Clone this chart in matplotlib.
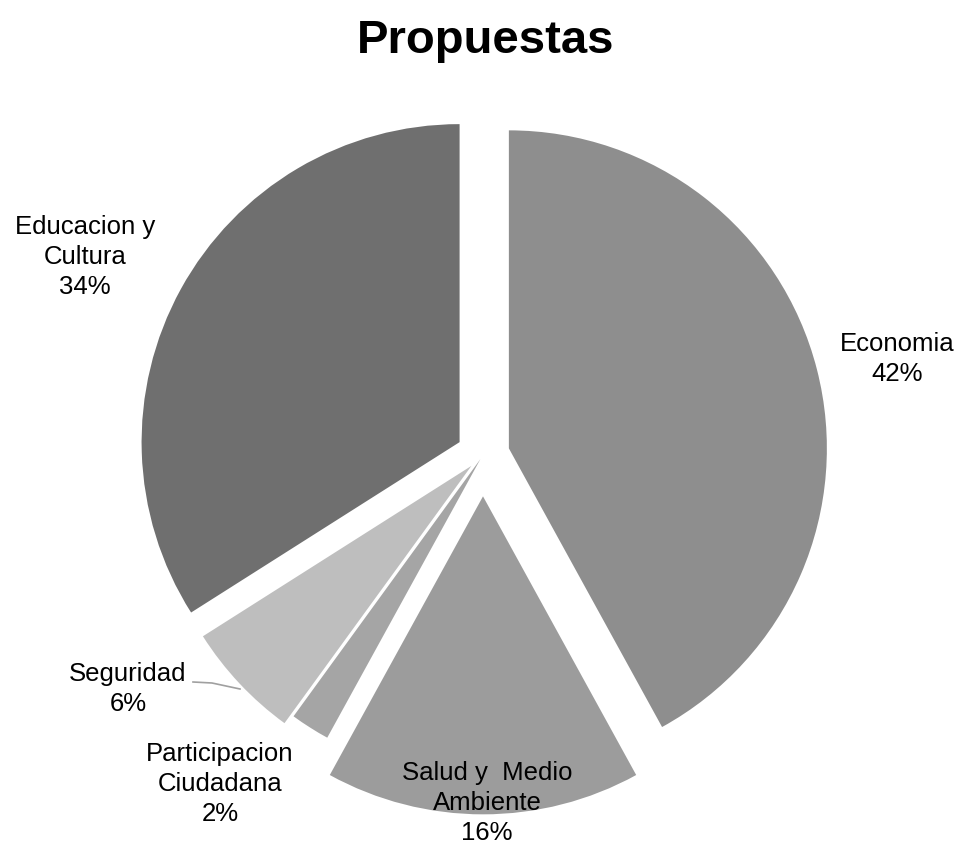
import matplotlib.pyplot as plt
import numpy as np

plt.rcParams['font.family'] = ['Liberation Sans', 'DejaVu Sans']

# datos
categorias = ['Economia', 'Salud y  Medio\nAmbiente', 'Participacion\nCiudadana',
              'Seguridad', 'Educacion y\nCultura']
porcentajes = [42, 16, 2, 6, 34]
colores = ['#8e8e8e', '#9c9c9c', '#a5a5a5', '#bebebe', '#6f6f6f']
separacion = [0.084, 0.13, 0.015, 0.05, 0.084]

# layout in pixels (figure 963x848, dpi 100)
W, H = 963, 848
cx, cy, R = 483, 455, 318
label_px = [(897, 359), (487, 803), (220, 784), (128, 689), (85, 257)]


def to_data(px, py):
    return (px - cx) / R, (cy - py) / R


fig = plt.figure(figsize=(W / 100, H / 100), dpi=100)
ax = fig.add_axes([0, 0, 1, 1])

wedges, _ = ax.pie(porcentajes, colors=colores, explode=separacion, startangle=90,
                   counterclock=False, radius=1, center=(0, 0), frame=True,
                   wedgeprops=dict(linewidth=0))
ax.set_xlim(-cx / R, (W - cx) / R)
ax.set_ylim((cy - H) / R, cy / R)
ax.set_aspect('auto')
ax.axis('off')

for cat, pct, (px, py) in zip(categorias, porcentajes, label_px):
    x, y = to_data(px, py)
    ax.text(x, y, f'{cat}\n{pct}%', ha='center', va='center', fontsize=18.5,
            linespacing=1.3, color='black')

# leader line for Seguridad
x0, y0 = to_data(193, 682)
x1, y1 = to_data(212, 683)
x2, y2 = to_data(240, 689)
ax.plot([x0, x1, x2], [y0, y1, y2], color='#a0a0a0', linewidth=1.2)

fig.text(486 / W, 1 - 41 / H, 'Propuestas', ha='center', va='center',
         fontsize=34, fontweight='bold')

fig.savefig('out.png', dpi=100, facecolor='white')
